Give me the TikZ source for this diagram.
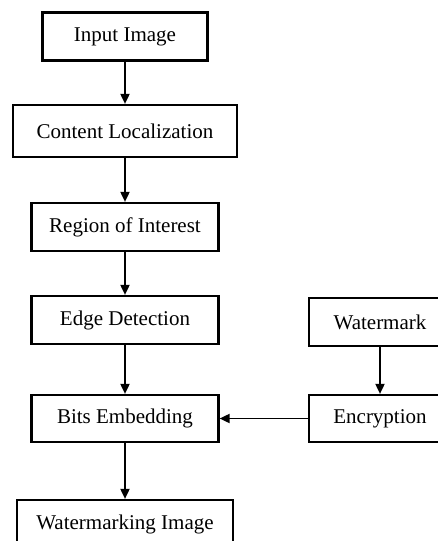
\documentclass[tikz,border=0pt]{standalone}
\usepackage{fontspec}
\setmainfont{Liberation Serif}
\usetikzlibrary{arrows.meta}

\begin{document}
\begin{tikzpicture}[x=1pt,y=-1pt,line cap=round,
  stage/.style={draw,line width=2.2pt,minimum height=48pt,inner sep=0pt,font=\fontsize{21}{25}\selectfont},
  flow/.style={-{Triangle[length=10pt,width=9pt]},line width=1.8pt}]
  \clip (0,0) rectangle (438,541);
  % main column
  \node[stage,minimum width=165pt] (in) at (125,36.5) {Input Image};
  \node[stage,minimum width=224pt,minimum height=52pt] (loc) at (125,131) {Content Localization};
  \node[stage,minimum width=187pt] (roi) at (125,227) {Region of Interest};
  \node[stage,minimum width=187pt] (edge) at (125,320) {Edge Detection};
  \node[stage,minimum width=187pt,minimum height=47pt] (bits) at (125,418.5) {Bits Embedding};
  \node[stage,minimum width=216pt] (out) at (125,524) {Watermarking Image};
  % side branch
  \node[stage,minimum width=142pt] (wm) at (380,322) {Watermark};
  \node[stage,minimum width=142pt,minimum height=47pt] (enc) at (380,418.5) {Encryption};
  \foreach \a/\b in {in/loc,loc/roi,roi/edge,edge/bits,bits/out,wm/enc,enc/bits}{\draw[flow] (\a) -- (\b);}
\end{tikzpicture}
\end{document}
